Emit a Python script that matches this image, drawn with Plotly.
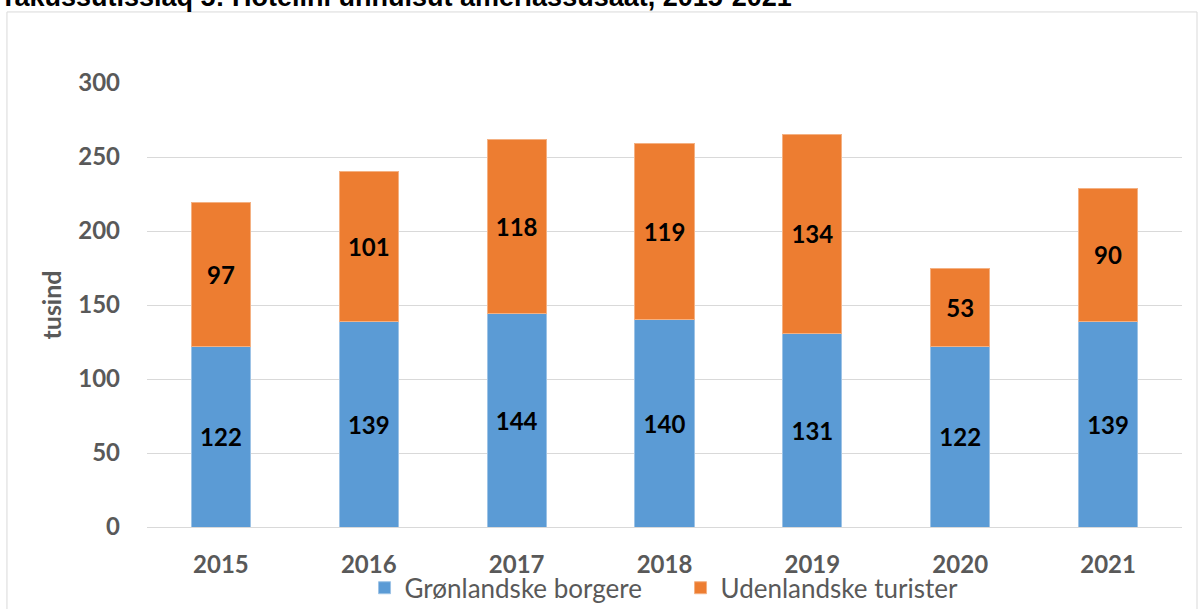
import plotly.graph_objects as go

years = ["2015", "2016", "2017", "2018", "2019", "2020", "2021"]
greenlanders = [122, 139, 144, 140, 131, 122, 139]
tourists = [97, 101, 118, 119, 134, 53, 90]
series_names = ["Grønlandske borgere", "Udenlandske turister"]
title_text = "Takussutissiaq 5: Hotelini unnuisut amerlassusaat, 2015-2021"
y_title = "tusind"
y_ticks = [0, 50, 100, 150, 200, 250, 300]

FONT = "Lato, Carlito, 'Open Sans', sans-serif"
GRAY = "#595959"

fig = go.Figure()
fig.add_trace(go.Bar(
    x=years, y=greenlanders, name=series_names[0],
    marker=dict(color="#5B9BD5", line=dict(color="#9DC3E6", width=1)),
    text=greenlanders, textposition="inside", insidetextanchor="middle",
    textfont=dict(family=FONT, size=24, color="black", weight="bold"),
    width=0.4, hoverinfo="skip",
))
fig.add_trace(go.Bar(
    x=years, y=tourists, name=series_names[1],
    marker=dict(color="#ED7D31", line=dict(color="#F4B183", width=1)),
    text=tourists, textposition="inside", insidetextanchor="middle",
    textfont=dict(family=FONT, size=24, color="black", weight="bold"),
    width=0.4, hoverinfo="skip",
))

fig.update_layout(
    barmode="stack",
    width=1200, height=609,
    margin=dict(l=147, r=18, t=83, b=82, autoexpand=False),
    paper_bgcolor="white", plot_bgcolor="white",
    font=dict(family=FONT, color=GRAY),
    showlegend=True,
    legend=dict(orientation="h", x=0.5155, xanchor="center", y=-0.137, yanchor="middle",
                bgcolor="rgba(0,0,0,0)",
                font=dict(family=FONT, size=26, color=GRAY), traceorder="normal",
                itemwidth=30, entrywidth=271),
    uniformtext=dict(mode=False),
)
fig.update_xaxes(
    showgrid=False, showline=True, linecolor="#D9D9D9", linewidth=1,
    tickfont=dict(family=FONT, size=24, color=GRAY, weight="bold"),
    ticks="", ticklabelstandoff=16,
)
fig.update_yaxes(
    range=[0, 300], tickvals=y_ticks, showgrid=True, gridcolor="#D9D9D9", gridwidth=1,
    zeroline=False, showline=False,
    tickfont=dict(family=FONT, size=24, color=GRAY, weight="bold"),
    ticklabelstandoff=26,
    title=dict(text=y_title, font=dict(family=FONT, size=25, color=GRAY, weight="bold"), standoff=9),
)

# outer chart frame
fig.add_shape(type="rect", xref="paper", yref="paper",
              x0=-0.1353, x1=1.0145, y0=-0.2, y1=1.16,
              line=dict(color="#D9D9D9", width=1), fillcolor="rgba(0,0,0,0)", layer="below")

# title, partly clipped at top (as in the reference)
fig.add_annotation(text="<b>" + title_text + "</b>", xref="paper", yref="paper",
                   x=-0.1440, xanchor="left", y=1.1554, yanchor="bottom", showarrow=False,
                   font=dict(family="'Liberation Sans', Arial, sans-serif", size=27, color="black"))

fig.write_html("out.html", config={"displayModeBar": False},
               post_script="document.body.style.margin='0';document.body.style.overflow='hidden';")
